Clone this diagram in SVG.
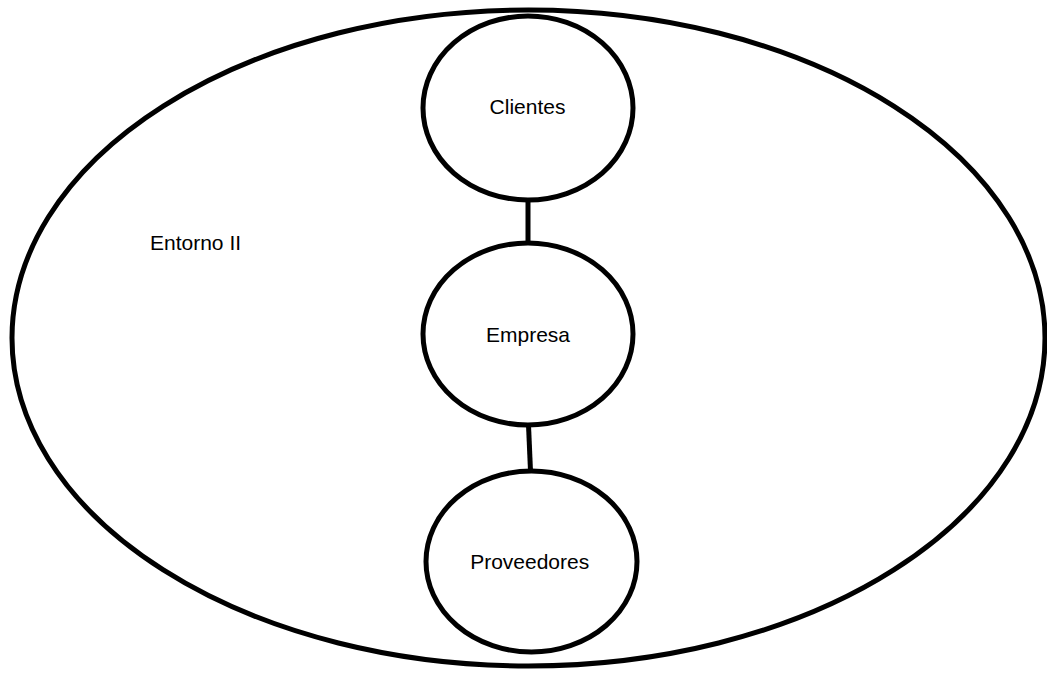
<svg xmlns="http://www.w3.org/2000/svg" width="1047" height="677" viewBox="0 0 1047 677">
<style>
.shape{fill:none;stroke:#000;stroke-width:5}
.node{fill:#fff;stroke:#000;stroke-width:5}
.conn{stroke:#000;stroke-width:5;fill:none}
text{font-family:"Liberation Sans",Arial,sans-serif;font-size:21px;fill:#000}
.c{text-anchor:middle}
</style>
<rect width="1047" height="677" fill="#fff"/>
<g id="entorno">
<ellipse class="shape" cx="528.5" cy="338" rx="516.5" ry="328"/>
<text x="150" y="250">Entorno II</text>
</g>
<g id="connectors">
<line class="conn" x1="528" y1="200" x2="528" y2="243"/>
<line class="conn" x1="528.5" y1="425" x2="530.5" y2="471"/>
</g>
<g id="clientes">
<ellipse class="node" cx="528" cy="108" rx="105" ry="92"/>
<text class="c" x="527.5" y="114">Clientes</text>
</g>
<g id="empresa">
<ellipse class="node" cx="528" cy="334" rx="105" ry="91"/>
<text class="c" x="528" y="342">Empresa</text>
</g>
<g id="proveedores">
<ellipse class="node" cx="531.5" cy="561.5" rx="105.5" ry="90.5"/>
<text class="c" x="529.7" y="569">Proveedores</text>
</g>
</svg>
